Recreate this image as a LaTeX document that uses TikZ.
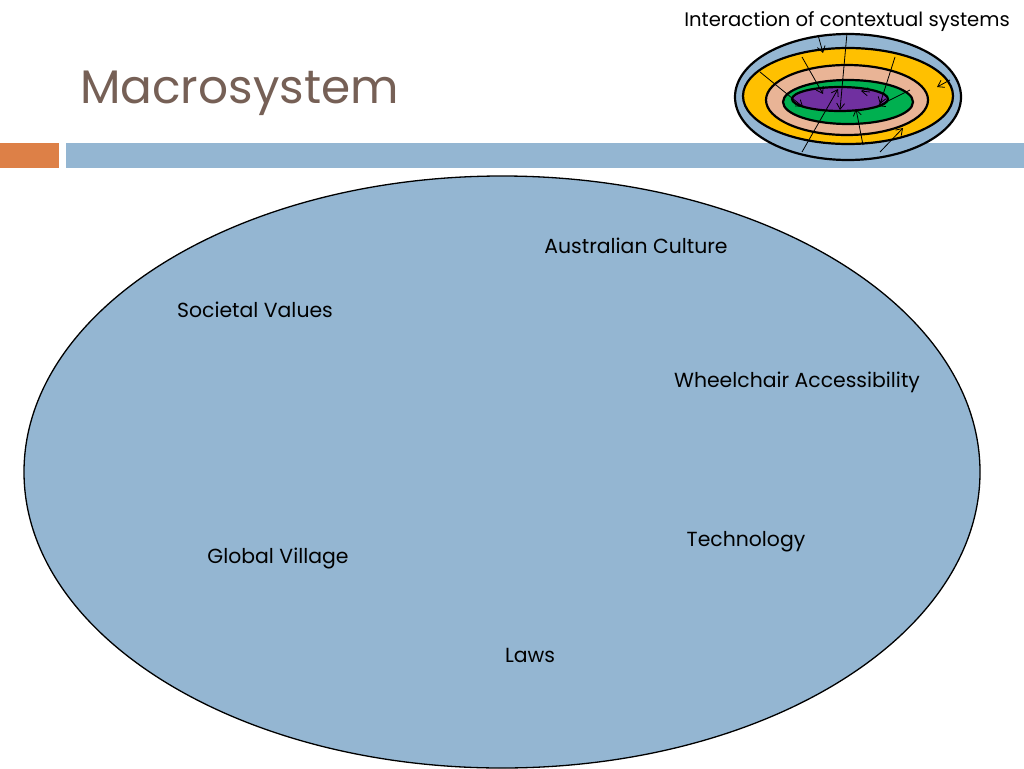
\documentclass[tikz,border=0pt]{standalone}
\usepackage{fontspec}
\setmainfont{Poppins}
\usetikzlibrary{arrows.meta}
\definecolor{slideblue}{RGB}{148,182,210}
\definecolor{slideorange}{RGB}{221,128,71}
\definecolor{titlebrown}{RGB}{118,96,86}
\definecolor{ringyellow}{RGB}{255,192,0}
\definecolor{ringpeach}{RGB}{233,180,150}
\definecolor{ringgreen}{RGB}{0,176,80}
\definecolor{ringpurple}{RGB}{112,48,160}
\tikzset{
  lbl/.style={font=\fontsize{20.4}{24}\selectfont, text=black, inner sep=0pt},
  ring/.style={draw=black, line width=2.2pt},
  iarrow/.style={-{Straight Barb[length=6pt,width=8pt]}, line width=0.8pt}
}
\begin{document}
\begin{tikzpicture}[x=1pt,y=-1pt]
\useasboundingbox (0,0) rectangle (1024,768);
\fill[white] (0,0) rectangle (1024,768);
% title
\node[anchor=base west, inner sep=0pt, text=titlebrown, font=\fontsize{47}{50}\selectfont] (title) at (80,103) {Macrosystem};
% bars
\fill[slideorange] (0,143) rectangle (59,168);
\fill[slideblue] (66,143) rectangle (1024,168);
% big ellipse
\draw[fill=slideblue, line width=1.3pt] (502,472) ellipse [x radius=478, y radius=296];
\node[lbl] (ac) at (636,246) {Australian Culture};
\node[lbl] (sv) at (255,310) {Societal Values};
\node[lbl] (wa) at (797,382) {Wheelchair Accessibility};
\node[lbl] (te) at (746,542) {Technology};
\node[lbl] (gv) at (278,558) {Global Village};
\node[lbl] (la) at (530,655) {Laws};
% icon
\node[inner sep=0pt, font=\fontsize{19.6}{22}\selectfont] (icon) at (847,22) {Interaction of contextual systems};
\draw[ring, fill=slideblue] (848,97) ellipse [x radius=113, y radius=63];
\draw[ring, fill=ringyellow] (848,96) ellipse [x radius=105, y radius=48];
\draw[ring, fill=ringpeach] (847,100) ellipse [x radius=81, y radius=35];
\draw[ring, fill=ringgreen] (848,102) ellipse [x radius=65, y radius=22];
\draw[ring, fill=ringpurple] (840,99) ellipse [x radius=48, y radius=12];
% arrows
\coordinate (a1s) at (818,35);  \coordinate (a1e) at (823,53);
\coordinate (a2s) at (847,33);  \coordinate (a2e) at (840,110);
\coordinate (a3s) at (802,57);  \coordinate (a3e) at (823,94);
\coordinate (a4s) at (760,72);  \coordinate (a4e) at (803,107);
\coordinate (a5s) at (895,57);  \coordinate (a5e) at (880,104);
\coordinate (a6s) at (910,90);  \coordinate (a6e) at (878,106);
\coordinate (a7s) at (950,80);  \coordinate (a7e) at (937,87);
\coordinate (a8s) at (802,152); \coordinate (a8e) at (838,89);
\coordinate (a9s) at (863,145); \coordinate (a9e) at (856,109);
\coordinate (a10s) at (880,152); \coordinate (a10e) at (903,128);
\coordinate (a11s) at (870,92); \coordinate (a11e) at (861,91);
\foreach \i in {1,...,11} {\draw[iarrow] (a\i s) -- (a\i e);}
\end{tikzpicture}
\end{document}
